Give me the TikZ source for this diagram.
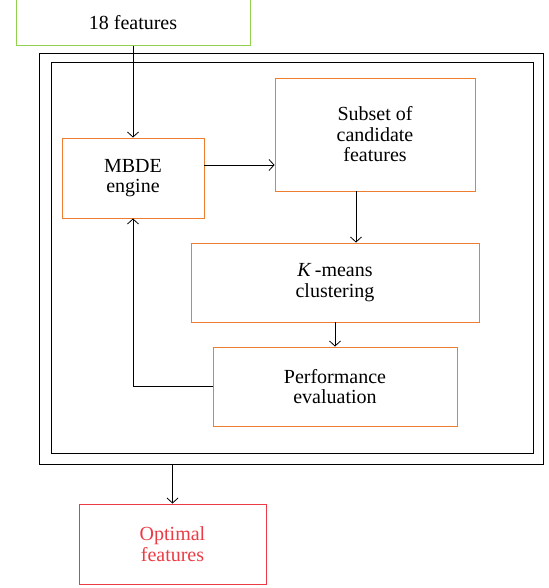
\documentclass[tikz,border=0pt]{standalone}
\usepackage{fontspec}
\setmainfont{Liberation Serif}
\usetikzlibrary{arrows.meta}
\definecolor{boxorange}{HTML}{ED7D31}
\definecolor{boxgreen}{HTML}{92D050}
\definecolor{boxred}{HTML}{EC3B44}
\tikzset{
  blk/.style={draw=boxorange, line width=0.9pt, align=center, inner sep=2pt,
    font=\fontsize{20}{20.5}\selectfont},
  arr/.style={draw=black, line width=0.8pt, -{Straight Barb[length=5pt,width=11pt]}},
  frame/.style={draw=black, line width=0.9pt, inner sep=0pt}
}
\begin{document}
\begin{tikzpicture}[x=1pt,y=-1pt]
\useasboundingbox (0,0) rectangle (548,588);
\node[frame, minimum width=504pt, minimum height=411pt] (outer) at (291,258.5) {};
\node[frame, minimum width=482pt, minimum height=391pt] (inner) at (292,257.5) {};
\node[blk, draw=boxgreen, minimum width=234pt, minimum height=46pt] (feat) at (133,22.5) {18 features};
\node[blk, minimum width=142pt, minimum height=80pt] (mbde) at (133,178) {MBDE\\engine};
\node[blk, minimum width=200pt, minimum height=113pt] (subset) at (375,134.5) {Subset of\\candidate\\features};
\node[blk, minimum width=288pt, minimum height=79pt] (kmeans) at (335,282.5) {\textit{K}\,-means\\clustering};
\node[blk, minimum width=244pt, minimum height=79pt] (perf) at (335,386.5) {Performance\\evaluation};
\node[blk, draw=boxred, text=boxred, minimum width=187pt, minimum height=80pt] (opt) at (172.5,544) {Optimal\\features};
\coordinate (ya) at (0,165);
\coordinate (xb) at (356,0);
\draw[arr] (feat.south) -- (mbde.north);
\draw[arr] (mbde.east |- ya) -- (subset.west |- ya);
\draw[arr] (subset.south -| xb) -- (kmeans.north -| xb);
\draw[arr] (kmeans.south) -- (perf.north);
\draw[arr] (perf.west) -| (mbde.south);
\draw[arr] (outer.south -| opt.north) -- (opt.north);
\end{tikzpicture}
\end{document}
